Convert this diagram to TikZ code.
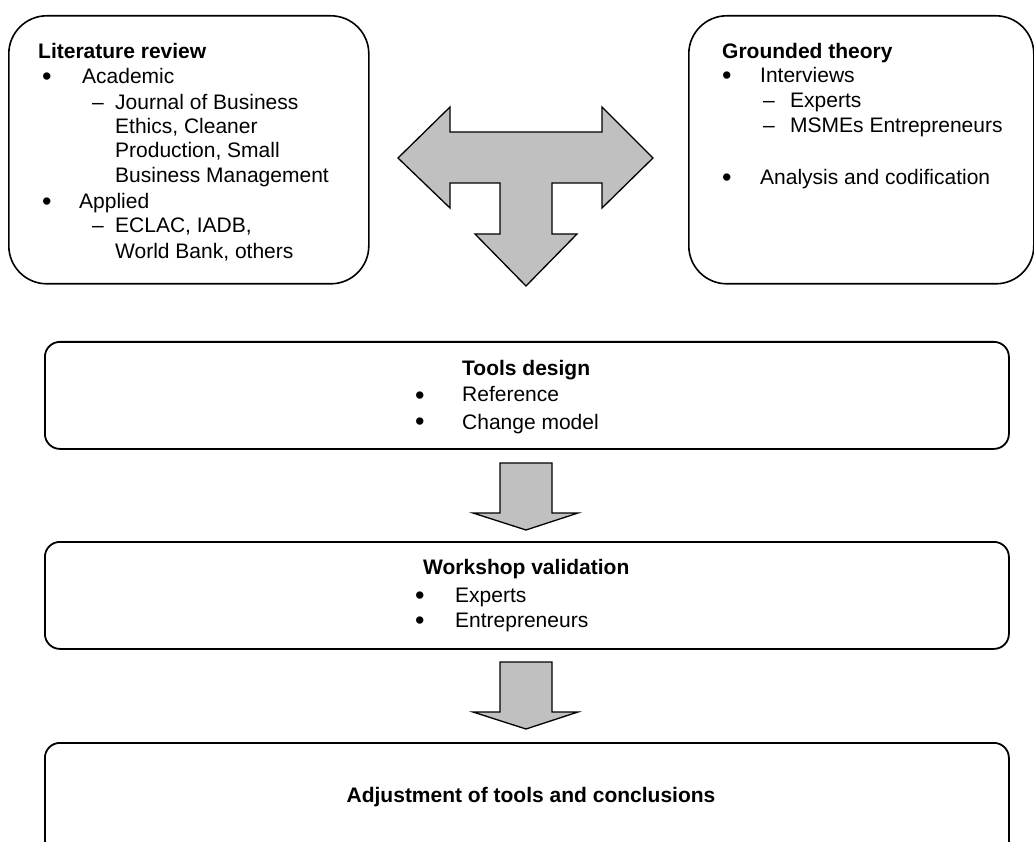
\documentclass[tikz,border=0pt]{standalone}
\usepackage{fontspec}
\setmainfont{Liberation Sans}
\definecolor{arrowgray}{HTML}{C0C0C0}
\begin{document}
\begin{tikzpicture}[x=1pt,y=-1pt,
  txt/.style={anchor=base west, inner sep=0pt, font=\fontsize{21}{25}\selectfont},
  btxt/.style={anchor=base west, inner sep=0pt, font=\fontsize{21}{25}\selectfont\bfseries},
  bul/.style={anchor=base west, inner sep=0pt, font=\fontsize{27}{25}\selectfont, yshift=-2pt},
  bigbox/.style={draw, line width=1.6pt, rounded corners=38pt, anchor=north west, inner sep=0pt},
  flowbox/.style={draw, line width=1.8pt, rounded corners=15pt, anchor=north west, inner sep=0pt},
  blockarrow/.style={draw, line width=1.3pt, fill=arrowgray, line join=miter}]
\useasboundingbox (0,0) rectangle (1034,842);
\clip (0,0) rectangle (1034,842);

% boxes
\node[bigbox, minimum width=360pt, minimum height=268pt] (lit) at (8,15) {};
\node[bigbox, minimum width=345pt, minimum height=268pt] (gt) at (688,15) {};
\node[flowbox, minimum width=964pt, minimum height=107pt] (tools) at (44,341) {};
\node[flowbox, minimum width=964pt, minimum height=107pt] (work) at (44,541) {};
\node[flowbox, minimum width=964pt, minimum height=140pt] (adj) at (44,742) {};

% T-shaped block arrow
\draw[blockarrow] (398,158) -- (450,107) -- (450,132) -- (602,132) -- (602,107)
  -- (653,158) -- (602,208) -- (602,183) -- (552,183) -- (552,234) -- (577,234)
  -- (526,286) -- (475,234) -- (500,234) -- (500,183) -- (450,183) -- (450,208) -- cycle;

% down block arrows
\draw[blockarrow] (500,463) -- (552,463) -- (552,513) -- (578,513) -- (526,530)
  -- (473,513) -- (500,513) -- cycle;
\draw[blockarrow] (500,662) -- (552,662) -- (552,712) -- (578,712) -- (526,729)
  -- (473,712) -- (500,712) -- cycle;

% Literature review
\node[btxt] (litT) at (38,59) {Literature review};
\node[bul] (litB1) at (42,84) {•};
\node[txt] (litA) at (82,84) {Academic};
\node[txt] (litD1) at (92,110) {–};
\node[txt] (litJ1) at (115,110) {Journal of Business};
\node[txt] (litJ2) at (115,134) {Ethics, Cleaner};
\node[txt] (litJ3) at (115,158) {Production, Small};
\node[txt] (litJ4) at (115,183) {Business Management};
\node[bul] (litB2) at (42,209) {•};
\node[txt] (litP) at (79,209) {Applied};
\node[txt] (litD2) at (92,233) {–};
\node[txt] (litE1) at (115,233) {ECLAC, IADB,};
\node[txt] (litE2) at (115,259) {World Bank, others};

% Grounded theory
\node[btxt] (gtT) at (722,59) {Grounded theory};
\node[bul] (gtB1) at (722,83) {•};
\node[txt] (gtI) at (760,83) {Interviews};
\node[txt] (gtD1) at (763,108) {–};
\node[txt] (gtE) at (790,108) {Experts};
\node[txt] (gtD2) at (763,133) {–};
\node[txt] (gtM) at (790,133) {MSMEs Entrepreneurs};
\node[bul] (gtB2) at (722,185) {•};
\node[txt] (gtA) at (760,185) {Analysis and codification};

% Tools design
\node[btxt] (toT) at (462,376) {Tools design};
\node[bul] (toB1) at (415,402) {•};
\node[txt] (toR) at (462,402) {Reference};
\node[bul] (toB2) at (415,429) {•};
\node[txt] (toC) at (462,429) {Change model};

% Workshop validation
\node[btxt] (woT) at (423,574) {Workshop validation};
\node[bul] (woB1) at (415,602) {•};
\node[txt] (woE) at (455,602) {Experts};
\node[bul] (woB2) at (415,627) {•};
\node[txt] (woN) at (455,627) {Entrepreneurs};

% Adjustment
\node[btxt, anchor=base] (adT) at (531,802) {Adjustment of tools and conclusions};
\end{tikzpicture}
\end{document}
